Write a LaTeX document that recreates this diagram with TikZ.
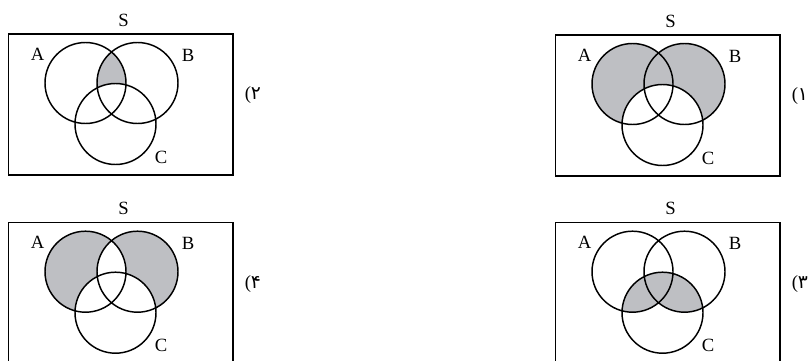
\documentclass[tikz,border=0pt]{standalone}
\usepackage{fontspec}
\setmainfont{Liberation Serif}
\newfontfamily\arabicfont[Script=Arabic]{DejaVu Sans}
\TeXXeTstate=1
\definecolor{venngray}{RGB}{190,191,195}

\tikzset{
  setline/.style={line width=1.1pt},
  boxline/.style={line width=0.9pt},
  setsize/.style={radius=40.5},
  setlabel/.style={font=\fontsize{14}{16}\selectfont, inner sep=0pt},
}

% centres of the three sets, relative to the top left corner of S
\newcommand\vennsets{%
  \coordinate (cA) at (77,49);
  \coordinate (cB) at (129,49);
  \coordinate (cC) at (107,90);
}
% outlines, frame and labels; #1 = number of the choice
\newcommand\venndraw[1]{%
  \draw[setline] (cA) circle[setsize] (cB) circle[setsize] (cC) circle[setsize];
  \draw[boxline] (0,0) rectangle (224.5,141);
  \node[setlabel] (S) at (115,-14) {S};
  \node[setlabel] (A) at (29,20) {A};
  \node[setlabel] (B) at (179.5,21) {B};
  \node[setlabel] (C) at (152.5,123) {C};
  \node[setlabel, anchor=west] (num) at (236,61) {(\arabicfont\beginR #1\endR};
}

\begin{document}
\begin{tikzpicture}[x=0.75pt, y=-0.75pt]
\clip (0,0) rectangle (809,360);

% choice 1: (A u B) - C
\begin{scope}[shift={(555.5,35)}, name prefix=one-]
  \vennsets
  \fill[venngray] (cA) circle[setsize] (cB) circle[setsize];
  \fill[white] (cC) circle[setsize];
  \venndraw{۱}
\end{scope}

% choice 2: (A n B) - C
\begin{scope}[shift={(8.5,34)}, name prefix=two-]
  \vennsets
  \begin{scope}
    \clip (cA) circle[setsize];
    \fill[venngray] (cB) circle[setsize];
  \end{scope}
  \fill[white] (cC) circle[setsize];
  \venndraw{۲}
\end{scope}

% choice 3: C n (A u B)
\begin{scope}[shift={(555.5,222.7)}, name prefix=three-]
  \vennsets
  \begin{scope}
    \clip (cC) circle[setsize];
    \fill[venngray] (cA) circle[setsize] (cB) circle[setsize];
  \end{scope}
  \venndraw{۳}
\end{scope}

% choice 4: (A sym B) - C
\begin{scope}[shift={(8.5,222.7)}, name prefix=four-]
  \vennsets
  \fill[venngray, even odd rule] (cA) circle[setsize] (cB) circle[setsize];
  \fill[white] (cC) circle[setsize];
  \venndraw{۴}
\end{scope}
\end{tikzpicture}
\end{document}
